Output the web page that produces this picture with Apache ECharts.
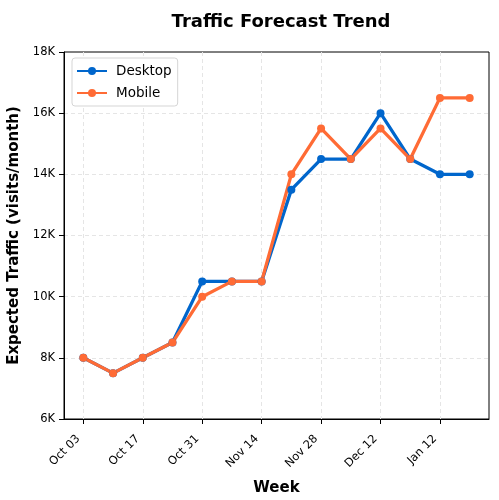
<!DOCTYPE html>
<html>
<head>
<meta charset="utf-8">
<script src="https://cdn.jsdelivr.net/npm/echarts@6/dist/echarts.min.js"></script>
<style>
html, body { margin: 0; padding: 0; background: #fff; }
#chart { width: 499px; height: 500px; }
</style>
</head>
<body>
<div id="chart"></div>
<script>
var weeks = ['Oct 03', 'Oct 10', 'Oct 17', 'Oct 24', 'Oct 31', 'Nov 07', 'Nov 14',
             'Nov 21', 'Nov 28', 'Dec 05', 'Dec 12', 'Dec 19', 'Jan 12', 'Jan 19'];
var desktop = [8000, 7500, 8000, 8500, 10500, 10500, 10500, 13500, 14500, 14500, 16000, 14500, 14000, 14000];
var mobile = [8000, 7500, 8000, 8500, 10000, 10500, 10500, 14000, 15500, 14500, 15500, 14500, 16500, 16500];
var tickIdx = [0, 2, 4, 6, 8, 10, 12];

var font = 'DejaVu Sans';

function pairs(vals) {
    return vals.map(function (v, i) { return [i, v]; });
}

var myChart = echarts.init(document.getElementById('chart'));

myChart.setOption({
    animation: false,
    title: {
        text: 'Traffic Forecast Trend',
        left: 276,
        top: 8,
        textAlign: 'center',
        textStyle: { fontFamily: font, fontSize: 18, fontWeight: 'bold', color: '#000' }
    },
    legend: {
        left: 72,
        top: 58,
        orient: 'vertical',
        itemWidth: 30,
        itemHeight: 10,
        itemGap: 8,
        padding: [6, 6, 6, 4],
        borderColor: '#d5d5d5',
        borderWidth: 1,
        borderRadius: 3,
        backgroundColor: '#fff',
        textStyle: { fontFamily: font, fontSize: 13.5, color: '#000', padding: [0, 0, 0, 4] },
        data: ['Desktop', 'Mobile']
    },
    grid: {
        left: 64,
        right: 10,
        top: 52,
        bottom: 81,
        outerBoundsMode: 'none',
        containLabel: false,
        show: true,
        borderColor: '#000',
        borderWidth: 1
    },
    xAxis: {
        type: 'value',
        min: -0.65,
        max: 13.65,
        name: 'Week',
        nameLocation: 'middle',
        nameGap: 62,
        nameTextStyle: { fontFamily: font, fontSize: 15, fontWeight: 'bold', color: '#000' },
        axisLine: { show: true, onZero: false, lineStyle: { color: '#000' } },
        axisTick: { show: true, length: 5, lineStyle: { color: '#000' }, customValues: tickIdx },
        axisLabel: {
            customValues: tickIdx,
            rotate: 45,
            fontFamily: font,
            fontSize: 11.5,
            color: '#000',
            margin: 13,
            padding: [0, 7, 0, 0],
            formatter: function (v) { return weeks[Math.round(v)]; }
        },
        splitLine: { show: true, lineStyle: { color: '#e5e5e5', type: [4, 3] } }
    },
    yAxis: {
        type: 'value',
        min: 6000,
        max: 18000,
        interval: 2000,
        name: 'Expected Traffic (visits/month)',
        nameLocation: 'middle',
        nameGap: 37,
        nameTextStyle: { fontFamily: font, fontSize: 15, fontWeight: 'bold', color: '#000' },
        axisLine: { show: true, onZero: false, lineStyle: { color: '#000' } },
        axisTick: { show: true, length: 5, lineStyle: { color: '#000' } },
        axisLabel: {
            fontFamily: font,
            fontSize: 11.5,
            color: '#000',
            margin: 9,
            formatter: function (v) { return (v / 1000) + 'K'; }
        },
        splitLine: {
            show: true,
            showMinLine: false,
            showMaxLine: false,
            lineStyle: { color: '#e5e5e5', type: [4, 3] }
        }
    },
    series: [
        {
            name: 'Desktop',
            type: 'line',
            data: pairs(desktop),
            symbol: 'circle',
            symbolSize: 8,
            color: '#0066cc',
            lineStyle: { width: 3.3 }
        },
        {
            name: 'Mobile',
            type: 'line',
            data: pairs(mobile),
            symbol: 'circle',
            symbolSize: 8,
            color: '#ff6b35',
            lineStyle: { width: 3.3 }
        }
    ]
});
</script>
</body>
</html>
